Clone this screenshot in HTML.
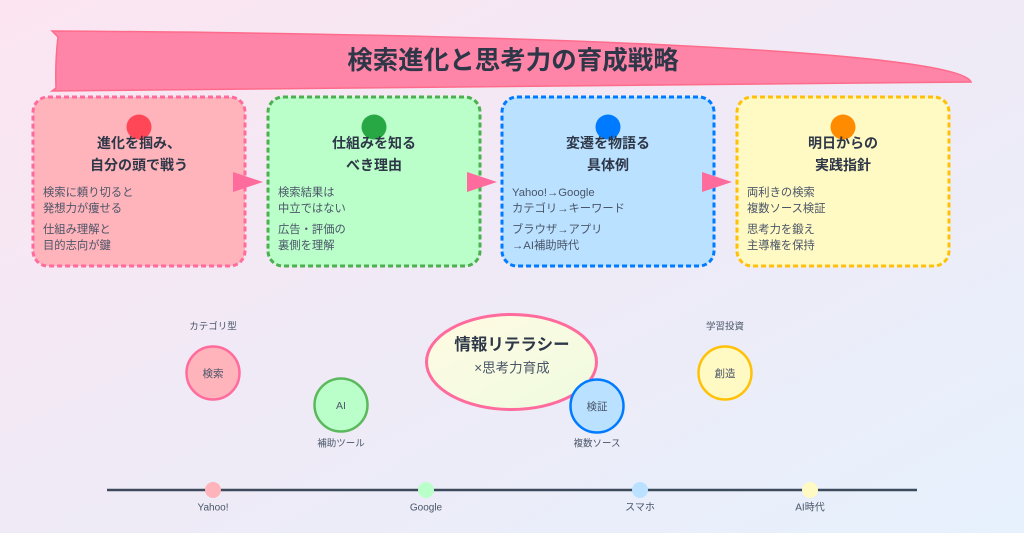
<!DOCTYPE html>
<html lang="ja">
<head>
<meta charset="utf-8">
<style>
  html,body{margin:0;padding:0;width:1024px;height:533px;overflow:hidden;}
  svg{display:block;}
  text{font-family:"Liberation Sans","Noto Sans CJK JP",sans-serif;}
</style>
</head>
<body>
<svg width="1024" height="533" viewBox="0 0 1024 533" xmlns="http://www.w3.org/2000/svg">
  <defs>
    <linearGradient id="bg" x1="0" y1="0" x2="1" y2="1">
      <stop offset="0" stop-color="#fce5f1"/>
      <stop offset="0.5" stop-color="#efeaf6"/>
      <stop offset="1" stop-color="#e6f1fd"/>
    </linearGradient>
    <linearGradient id="ell" x1="0" y1="0" x2="1" y2="1">
      <stop offset="0" stop-color="#fffbe2"/>
      <stop offset="1" stop-color="#eefbe0"/>
    </linearGradient>
  </defs>
  <rect x="0" y="0" width="1024" height="533" fill="url(#bg)"/>

  <!-- Title banner -->
  <path d="M52,31 L58,37 Q55,62 56,88 L52,91 L971,82 C960,52 550,34 52,31 Z" fill="#ff85a8" stroke="#ff6b8a" stroke-width="1.5"/>
  <text x="513" y="61" text-anchor="middle" dominant-baseline="central" font-size="25.5" font-weight="bold" fill="#2d3748">検索進化と思考力の育成戦略</text>

  <!-- Cards -->
  <rect x="33" y="97" width="212" height="169" rx="15" fill="#ffb3ba" stroke="#ff6b9d" stroke-width="3" stroke-dasharray="5,3"/>
  <rect x="268" y="97" width="212" height="169" rx="15" fill="#baffc9" stroke="#4caf50" stroke-width="3" stroke-dasharray="5,3"/>
  <rect x="502" y="97" width="212" height="169" rx="15" fill="#bae1ff" stroke="#007bff" stroke-width="3" stroke-dasharray="5,3"/>
  <rect x="737" y="97" width="212" height="169" rx="15" fill="#fff9c4" stroke="#ffc107" stroke-width="3" stroke-dasharray="5,3"/>

  <circle cx="139" cy="127" r="12.5" fill="#ff4757"/>
  <circle cx="374" cy="127" r="12.5" fill="#28a745"/>
  <circle cx="608" cy="127" r="12.5" fill="#007bff"/>
  <circle cx="843" cy="127" r="12.5" fill="#ff8c00"/>

  <g font-size="14" font-weight="bold" fill="#2d3748" text-anchor="middle" dominant-baseline="central">
    <text x="139" y="143">進化を掴み、</text>
    <text x="139" y="165">自分の頭で戦う</text>
    <text x="374" y="143">仕組みを知る</text>
    <text x="374" y="165">べき理由</text>
    <text x="608" y="143">変遷を物語る</text>
    <text x="608" y="165">具体例</text>
    <text x="843" y="143">明日からの</text>
    <text x="843" y="165">実践指針</text>
  </g>

  <g font-size="11.3" fill="#4a5568" dominant-baseline="central">
    <text x="43" y="193">検索に頼り切ると</text>
    <text x="43" y="209">発想力が痩せる</text>
    <text x="43" y="230">仕組み理解と</text>
    <text x="43" y="246">目的志向が鍵</text>

    <text x="278" y="193">検索結果は</text>
    <text x="278" y="209">中立ではない</text>
    <text x="278" y="230">広告・評価の</text>
    <text x="278" y="246">裏側を理解</text>

    <text x="512" y="193">Yahoo!→Google</text>
    <text x="512" y="209">カテゴリ→キーワード</text>
    <text x="512" y="230">ブラウザ→アプリ</text>
    <text x="512" y="246">→AI補助時代</text>

    <text x="747" y="193">両利きの検索</text>
    <text x="747" y="209">複数ソース検証</text>
    <text x="747" y="230">思考力を鍛え</text>
    <text x="747" y="246">主導権を保持</text>
  </g>

  <!-- Arrows -->
  <polygon points="233,172 263,182 233,192" fill="#ff6b9d"/>
  <polygon points="467,172 497,182 467,192" fill="#ff6b9d"/>
  <polygon points="702,172 732,182 702,192" fill="#ff6b9d"/>

  <!-- Bottom concept area -->
  <g font-size="9.5" fill="#4a5568" text-anchor="middle" dominant-baseline="central">
    <text x="213" y="327">カテゴリ型</text>
    <text x="725" y="327">学習投資</text>
    <text x="341" y="444">補助ツール</text>
    <text x="597" y="444">複数ソース</text>
  </g>

  <circle cx="213" cy="373" r="26.5" fill="#ffb3ba" stroke="#ff6b9d" stroke-width="2.5"/>
  <circle cx="341" cy="405" r="26.5" fill="#baffc9" stroke="#5cb85c" stroke-width="2.5"/>
  <circle cx="725" cy="373" r="26.5" fill="#fff9c4" stroke="#ffc107" stroke-width="2.5"/>

  <ellipse cx="511.5" cy="362" rx="85" ry="47.5" fill="url(#ell)" stroke="#ff6b9d" stroke-width="3"/>
  <text x="512" y="345" text-anchor="middle" dominant-baseline="central" font-size="16.5" font-weight="bold" fill="#2d3748">情報リテラシー</text>
  <text x="512" y="368" text-anchor="middle" dominant-baseline="central" font-size="13.5" fill="#4a5568">×思考力育成</text>

  <circle cx="597" cy="406" r="26.5" fill="#bae1ff" stroke="#007bff" stroke-width="2.5"/>

  <g font-size="10.5" fill="#4a5568" text-anchor="middle" dominant-baseline="central">
    <text x="213" y="374">検索</text>
    <text x="341" y="406">AI</text>
    <text x="597" y="407">検証</text>
    <text x="725" y="374">創造</text>
  </g>

  <!-- Timeline -->
  <line x1="107" y1="490" x2="917" y2="490" stroke="#3d4a5c" stroke-width="2.5"/>
  <circle cx="213" cy="490" r="8" fill="#ffb3ba"/>
  <circle cx="426" cy="490" r="8" fill="#baffc9"/>
  <circle cx="640" cy="490" r="8" fill="#bae1ff"/>
  <circle cx="810" cy="490" r="8" fill="#fff9c4"/>
  <g font-size="10" fill="#4a5568" text-anchor="middle" dominant-baseline="central">
    <text x="213" y="508">Yahoo!</text>
    <text x="426" y="508">Google</text>
    <text x="640" y="508">スマホ</text>
    <text x="810" y="508">AI時代</text>
  </g>
</svg>
</body>
</html>
